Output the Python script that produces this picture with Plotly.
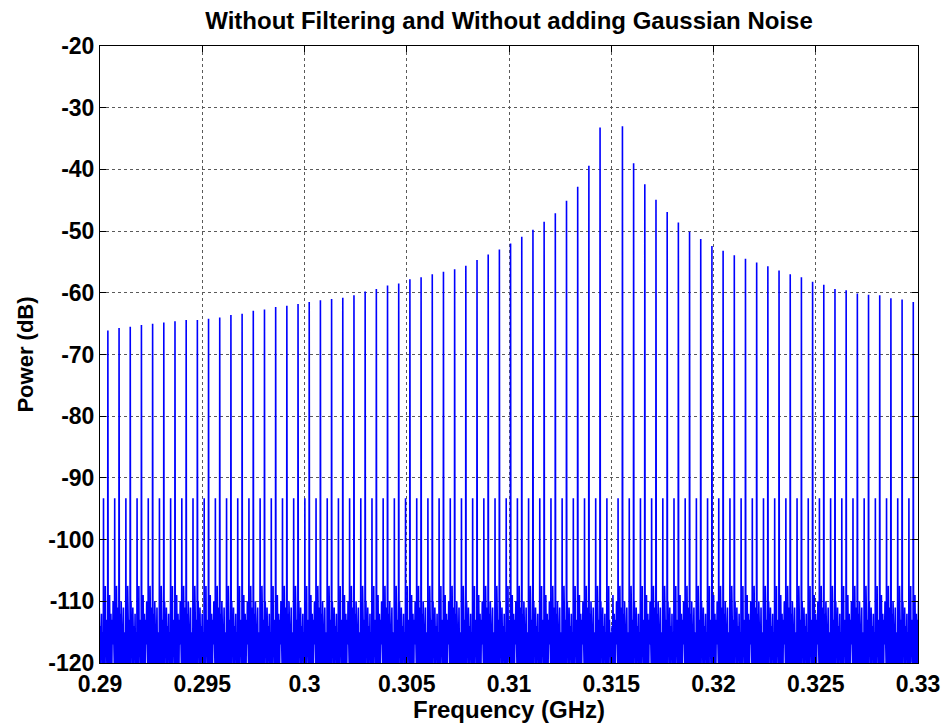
import plotly.graph_objects as go

# ---------------- data ----------------
center_ghz = 0.315
spacing_ghz = 0.000547
harmonic_index = list(range(-46, 29))
peak_power_db = [
    -66.3, -66.1, -65.7, -65.5, -65.2, -65.0, -64.8, -64.6, -64.4, -64.4,
    -64.2, -64.0, -63.6, -63.4, -62.9, -62.7, -62.3, -62.1, -61.8, -61.5,
    -61.2, -61.0, -60.8, -60.4, -59.8, -59.4, -58.8, -58.5, -57.8, -57.5,
    -57.0, -56.6, -56.2, -55.6, -54.7, -53.8, -53.0, -52.0, -50.9, -49.8,
    -48.5, -47.1, -45.1, -42.8, -39.4, -33.2,
    -125.0,
    -33.0, -39.0, -42.4, -44.9, -46.9, -48.6, -50.1, -51.3, -52.4, -53.2,
    -53.9, -54.5, -55.1, -55.7, -56.4, -57.0, -57.5, -58.2, -58.7, -59.4,
    -59.6, -60.1, -60.3, -60.4, -60.9, -61.1, -61.5, -61.7,
]

# floor between comb lines (fraction of line spacing, power in dB)
floor_frac = [0.03, 0.07, 0.11, 0.15, 0.19, 0.23, 0.27, 0.31, 0.35, 0.39,
              0.43, 0.47, 0.51, 0.55, 0.59, 0.61, 0.63, 0.67, 0.71, 0.75,
              0.77, 0.80, 0.84, 0.88, 0.92, 0.96, 0.98]
floor_a = [-122, -110, -118, -113, -120, -111, -116, -121, -114, -119,
           -112, -121, -115, -120, -122, -93.3, -122, -116, -111, -122,
           -107.5, -119, -113, -117, -121, -115, -122]
floor_b = [-122, -114, -120, -109, -117, -121, -112, -118, -122, -113,
           -117, -110, -121, -116, -122, -93.3, -122, -113, -119, -121,
           -107.5, -114, -120, -111, -118, -122, -122]
floor_c = [-122, -112, -116, -121, -110, -119, -114, -122, -117, -111,
           -120, -115, -118, -122, -121, -93.3, -122, -119, -112, -122,
           -107.5, -117, -115, -121, -113, -119, -122]
floor_patterns = [floor_a, floor_b, floor_c]

x_tick_vals = [0.29, 0.295, 0.30, 0.305, 0.31, 0.315, 0.32, 0.325, 0.33]
x_tick_text = ["0.29", "0.295", "0.3", "0.305", "0.31", "0.315", "0.32", "0.325", "0.33"]
y_tick_vals = [-20, -30, -40, -50, -60, -70, -80, -90, -100, -110, -120]
y_tick_text = ["-20", "-30", "-40", "-50", "-60", "-70", "-80", "-90", "-100", "-110", "-120"]

# ---------------- build the spectrum trace ----------------
freq, power = [], []
for i, n in enumerate(harmonic_index):
    f0 = center_ghz + n * spacing_ghz
    freq.append(f0)
    power.append(peak_power_db[i])
    pat = floor_patterns[i % len(floor_patterns)]
    for fr, v in zip(floor_frac, pat):
        freq.append(f0 + fr * spacing_ghz)
        power.append(v)

fig = go.Figure()
fig.add_trace(go.Scatter(x=freq, y=power, mode="lines",
                         line=dict(color="#0000ff", width=1.6),
                         showlegend=False, hoverinfo="skip"))

font_family = "Arial, Liberation Sans, sans-serif"
axis_common = dict(
    automargin=False,
    showline=True, linecolor="black", linewidth=1, mirror="ticks",
    ticks="inside", ticklen=6, tickcolor="black", tickwidth=1,
    showgrid=True, gridcolor="#5a5a5a", griddash="dot", gridwidth=1,
    zeroline=False,
    tickfont=dict(family=font_family, size=23, color="black", weight="bold"),
)

fig.update_layout(
    width=945, height=723,
    margin=dict(l=100, r=27, t=46, b=60, autoexpand=False),
    paper_bgcolor="white", plot_bgcolor="white",
    title=dict(text="Without Filtering and Without adding Gaussian Noise",
               x=0.5, xref="paper", xanchor="center",
               y=1 - 21 / 723, yref="container", yanchor="middle",
               font=dict(family=font_family, size=24, color="black", weight="bold")),
    xaxis=dict(range=[0.29, 0.33], tickvals=x_tick_vals, ticktext=x_tick_text,
               title=dict(text="Frequency (GHz)", standoff=0,
                          font=dict(family=font_family, size=24, color="black", weight="bold")),
               **axis_common),
    yaxis=dict(range=[-120, -20], tickvals=y_tick_vals, ticktext=y_tick_text,
               title=dict(text="Power (dB)", standoff=8,
                          font=dict(family=font_family, size=22, color="black", weight="bold")),
               **axis_common),
)

fig.write_html("out.html")
